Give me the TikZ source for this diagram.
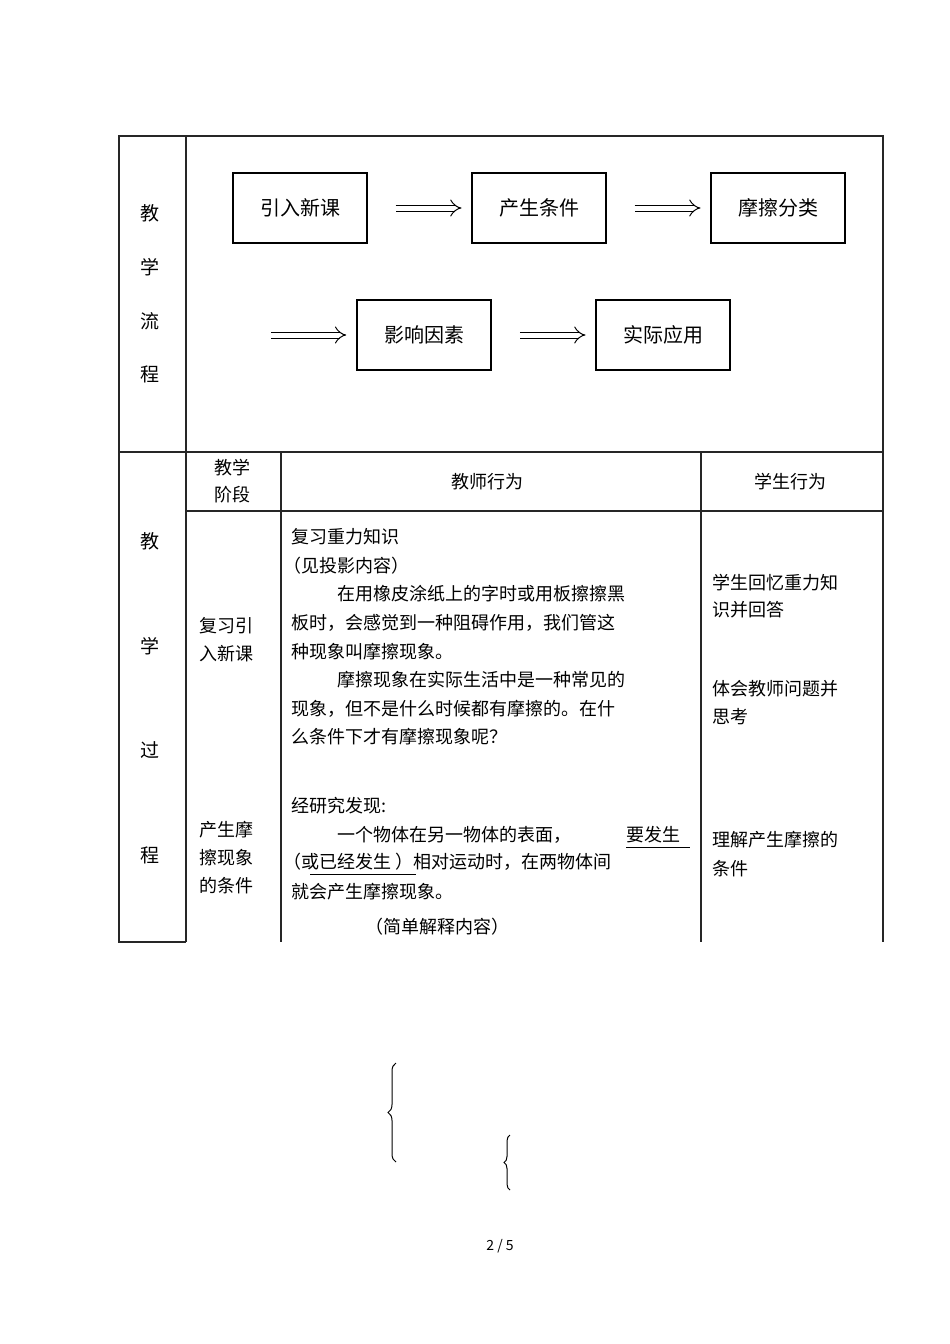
\documentclass[tikz,border=0pt]{standalone}
\usepackage{fontspec}
\setmainfont{Noto Sans CJK SC}
\usetikzlibrary{arrows,decorations.pathreplacing,calc}
\begin{document}
\begin{tikzpicture}[x=1pt,y=-1pt,
  grid/.style={line width=1.2pt,black!85},
  flowbox/.style={draw,line width=1.1pt,minimum width=134pt,minimum height=70pt,font=\fontsize{20}{20}\selectfont,inner sep=0pt},
  darr/.style={double,double distance=5pt,line width=1pt,-implies,shorten <=28pt,shorten >=10pt},
  body/.style={anchor=west,font=\fontsize{18}{18}\selectfont,inner sep=0pt},
  vc/.style={font=\fontsize{19}{19}\selectfont,inner sep=0pt}]
\useasboundingbox (0,0) rectangle (950,1344);
% table lines
\draw[grid] (119,136) rectangle (883,452);
\draw[grid] (186,136) -- (186,942);
\draw[grid] (119,452) -- (119,942) -- (186,942);
\draw[grid] (883,452) -- (883,942);
\draw[grid] (186,511) -- (883,511);
\draw[grid] (281,452) -- (281,942);
\draw[grid] (701,452) -- (701,942);
% column 1
\foreach \t/\y in {教/213,学/267,流/321,程/374,教/541,学/646,过/750,程/855}
  \node[vc] at (150,\y) {\t};
% flow
\node[flowbox] (a) at (300,208) {引入新课};
\node[flowbox] (b) at (539,208) {产生条件};
\node[flowbox] (c) at (778,208) {摩擦分类};
\node[flowbox,line width=1.6pt] (d) at (424,335) {影响因素};
\node[flowbox] (e) at (663,335) {实际应用};
\coordinate (s) at (243,335);
\draw[darr] (a) -- (b);
\draw[darr] (b) -- (c);
\draw[darr] (s) -- (d);
\draw[darr] (d) -- (e);
% header
\node[vc,align=center,font=\fontsize{18}{27}\selectfont] at (232,481) {教学\\阶段};
\node[vc,font=\fontsize{18}{18}\selectfont] at (487,482) {教师行为};
\node[vc,font=\fontsize{18}{18}\selectfont] at (790,482) {学生行为};
% stage column
\node[body] at (199,626) {复习引};
\node[body] at (199,654) {入新课};
\node[body] at (199,830) {产生摩};
\node[body] at (199,858) {擦现象};
\node[body] at (199,886) {的条件};
% teacher column
\node[body] at (291,537) {复习重力知识};
\node[body] at (283,566) {（见投影内容）};
\node[body] at (337,594) {在用橡皮涂纸上的字时或用板擦擦黑};
\node[body] at (291,623) {板时，会感觉到一种阻碍作用，我们管这};
\node[body] at (291,652) {种现象叫摩擦现象。};
\node[body] at (337,680) {摩擦现象在实际生活中是一种常见的};
\node[body] at (291,709) {现象，但不是什么时候都有摩擦的。在什};
\node[body] at (291,737) {么条件下才有摩擦现象呢？};
\node[body] at (291,806) {经研究发现:};
\node[body] at (337,835) {一个物体在另一物体的表面，};
\node[body] (u1) at (626,835) {要发生};
\node[body] at (283,862) {（或已经发生 ）相对运动时，在两物体间};
\node[body] at (291,892) {就会产生摩擦现象。};
\node[body] at (365,927) {（简单解释内容）};
\draw[line width=0.8pt] (626,847) -- (690,847);
\draw[line width=0.8pt] (310,874) -- (416,874);
% student column
\node[body] at (712,583) {学生回忆重力知};
\node[body] at (712,610) {识并回答};
\node[body] at (712,689) {体会教师问题并};
\node[body] at (712,717) {思考};
\node[body] at (712,840) {理解产生摩擦的};
\node[body] at (712,869) {条件};
% braces
\draw[line width=1pt,decorate,decoration={brace,amplitude=8pt}] (396,1162) -- (396,1063);
\draw[line width=1pt,decorate,decoration={brace,amplitude=6pt}] (510,1190) -- (510,1135);
\node[font=\fontsize{14}{14}\selectfont,inner sep=0pt] at (500,1246) {2 / 5};
\end{tikzpicture}
\end{document}
